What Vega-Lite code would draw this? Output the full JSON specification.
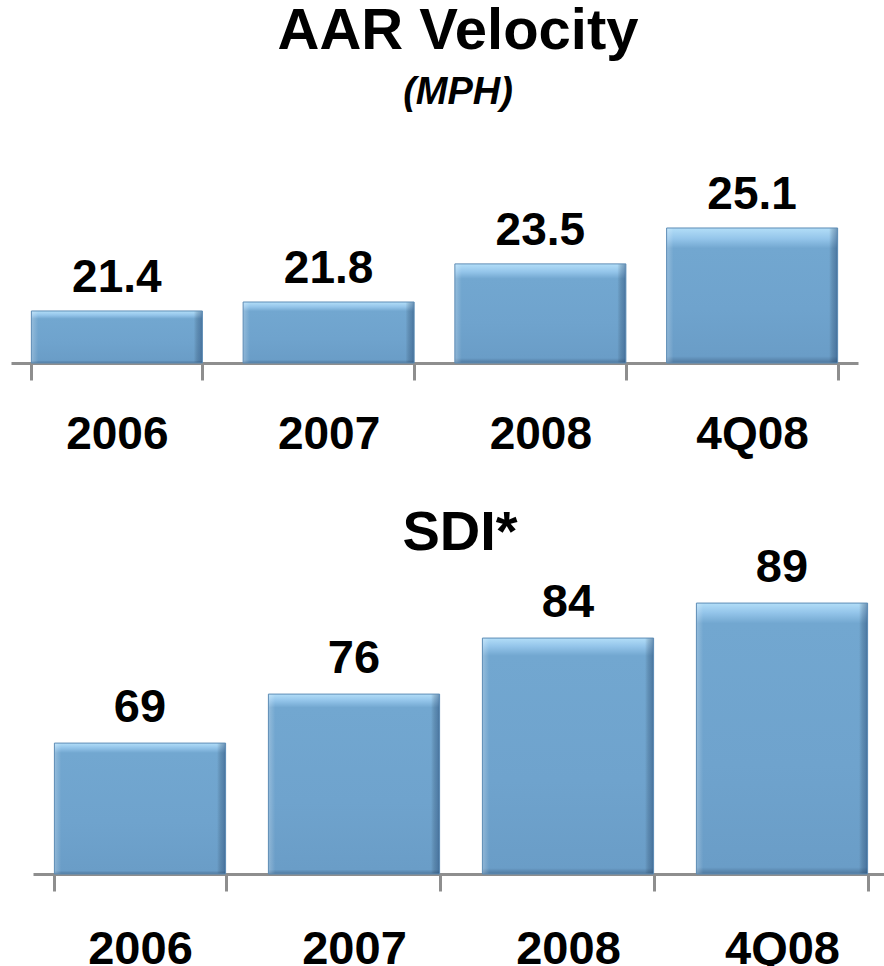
{
  "$schema": "https://vega.github.io/schema/vega-lite/v6.json",
  "padding": {"top": 3, "left": 0, "right": 0, "bottom": 0},
  "background": "white",
  "spacing": 48,
  "config": {"view": {"stroke": null}, "font": "Liberation Sans"},
  "datasets": {
    "aar": [
      {"period": "2006", "value": 21.4},
      {"period": "2007", "value": 21.8},
      {"period": "2008", "value": 23.5},
      {"period": "4Q08", "value": 25.1}
    ],
    "sdi": [
      {"period": "2006", "value": 69},
      {"period": "2007", "value": 76},
      {"period": "2008", "value": 84},
      {"period": "4Q08", "value": 89}
    ]
  },
  "vconcat": [
    {
      "width": 884,
      "height": 233,
      "title": {
        "text": "AAR Velocity",
        "subtitle": "(MPH)",
        "anchor": "middle",
        "dx": 16,
        "offset": 18,
        "font": "Liberation Sans",
        "fontSize": 58,
        "fontWeight": "bold",
        "color": "black",
        "subtitleFont": "Liberation Sans",
        "subtitleFontSize": 38,
        "subtitleFontStyle": "italic",
        "subtitleFontWeight": "bold",
        "subtitleColor": "black",
        "subtitlePadding": 13
      },
      "data": {"name": "aar"},
      "encoding": {
        "x": {
          "field": "period",
          "type": "nominal",
          "sort": null,
          "scale": {"range": [11, 858], "paddingInner": 0.1924, "paddingOuter": 0.0962},
          "axis": {
            "title": null,
            "tickBand": "extent",
            "domainColor": "#8e8e8e",
            "domainWidth": 3,
            "tickColor": "#8e8e8e",
            "tickWidth": 3,
            "tickSize": 17,
            "labelFont": "Liberation Sans",
            "labelFontSize": 46,
            "labelFontWeight": "bold",
            "labelColor": "black",
            "labelBaseline": "alphabetic",
            "labelPadding": 68,
            "labelAngle": 0
          }
        },
        "y": {
          "field": "value",
          "type": "quantitative",
          "scale": {"domain": [19.08, 29.47], "zero": false, "nice": false, "clamp": true},
          "axis": null
        }
      },
      "layer": [
        {
          "mark": {
            "type": "bar",
            "color": {
              "gradient": "linear", "x1": 0, "y1": 0, "x2": 0, "y2": 1,
              "stops": [
                {"offset": 0, "color": "#b3def8"},
                {"offset": 0.08, "color": "#94c5ea"},
                {"offset": 0.15, "color": "#72a7d0"},
                {"offset": 0.6, "color": "#6fa3cd"},
                {"offset": 0.95, "color": "#6a9dc7"},
                {"offset": 1, "color": "#4f789e"}
              ]
            }
          }
        },
        {
          "mark": {
            "type": "bar",
            "stroke": "#5d8cb5",
            "strokeWidth": 1,
            "color": {
              "gradient": "linear", "x1": 0, "y1": 0, "x2": 1, "y2": 0,
              "stops": [
                {"offset": 0, "color": "rgba(255,255,255,0.25)"},
                {"offset": 0.04, "color": "rgba(255,255,255,0)"},
                {"offset": 0.95, "color": "rgba(0,0,0,0)"},
                {"offset": 0.985, "color": "rgba(20,50,90,0.3)"},
                {"offset": 1, "color": "rgba(20,50,90,0.45)"}
              ]
            }
          }
        },
        {
          "mark": {
            "type": "text",
            "baseline": "alphabetic",
            "dy": -19,
            "font": "Liberation Sans",
            "fontSize": 46,
            "fontWeight": "bold",
            "color": "black"
          },
          "encoding": {"text": {"field": "value", "type": "quantitative", "format": ".1f"}}
        }
      ]
    },
    {
      "width": 884,
      "height": 278,
      "title": {
        "text": "SDI*",
        "anchor": "middle",
        "frame": "group",
        "dx": 18,
        "offset": -18,
        "font": "Liberation Sans",
        "fontSize": 56,
        "fontWeight": "bold",
        "color": "black"
      },
      "data": {"name": "sdi"},
      "encoding": {
        "x": {
          "field": "period",
          "type": "nominal",
          "sort": null,
          "scale": {"range": [33, 889], "paddingInner": 0.2, "paddingOuter": 0.1},
          "axis": {
            "title": null,
            "tickBand": "extent",
            "domainColor": "#8e8e8e",
            "domainWidth": 3,
            "tickColor": "#8e8e8e",
            "tickWidth": 3,
            "tickSize": 17,
            "labelFont": "Liberation Sans",
            "labelFontSize": 47,
            "labelFontWeight": "bold",
            "labelColor": "black",
            "labelBaseline": "alphabetic",
            "labelPadding": 72,
            "labelAngle": 0
          }
        },
        "y": {
          "field": "value",
          "type": "quantitative",
          "scale": {"domain": [50.3, 90.01], "zero": false, "nice": false, "clamp": true},
          "axis": null
        }
      },
      "layer": [
        {
          "mark": {
            "type": "bar",
            "color": {
              "gradient": "linear", "x1": 0, "y1": 0, "x2": 0, "y2": 1,
              "stops": [
                {"offset": 0, "color": "#b3def8"},
                {"offset": 0.035, "color": "#94c5ea"},
                {"offset": 0.075, "color": "#72a7d0"},
                {"offset": 0.6, "color": "#6fa3cd"},
                {"offset": 0.975, "color": "#6a9dc7"},
                {"offset": 1, "color": "#4f789e"}
              ]
            }
          }
        },
        {
          "mark": {
            "type": "bar",
            "stroke": "#5d8cb5",
            "strokeWidth": 1,
            "color": {
              "gradient": "linear", "x1": 0, "y1": 0, "x2": 1, "y2": 0,
              "stops": [
                {"offset": 0, "color": "rgba(255,255,255,0.25)"},
                {"offset": 0.04, "color": "rgba(255,255,255,0)"},
                {"offset": 0.95, "color": "rgba(0,0,0,0)"},
                {"offset": 0.985, "color": "rgba(20,50,90,0.3)"},
                {"offset": 1, "color": "rgba(20,50,90,0.45)"}
              ]
            }
          }
        },
        {
          "mark": {
            "type": "text",
            "baseline": "alphabetic",
            "dy": -21,
            "font": "Liberation Sans",
            "fontSize": 47,
            "fontWeight": "bold",
            "color": "black"
          },
          "encoding": {"text": {"field": "value", "type": "quantitative", "format": "d"}}
        }
      ]
    }
  ]
}
